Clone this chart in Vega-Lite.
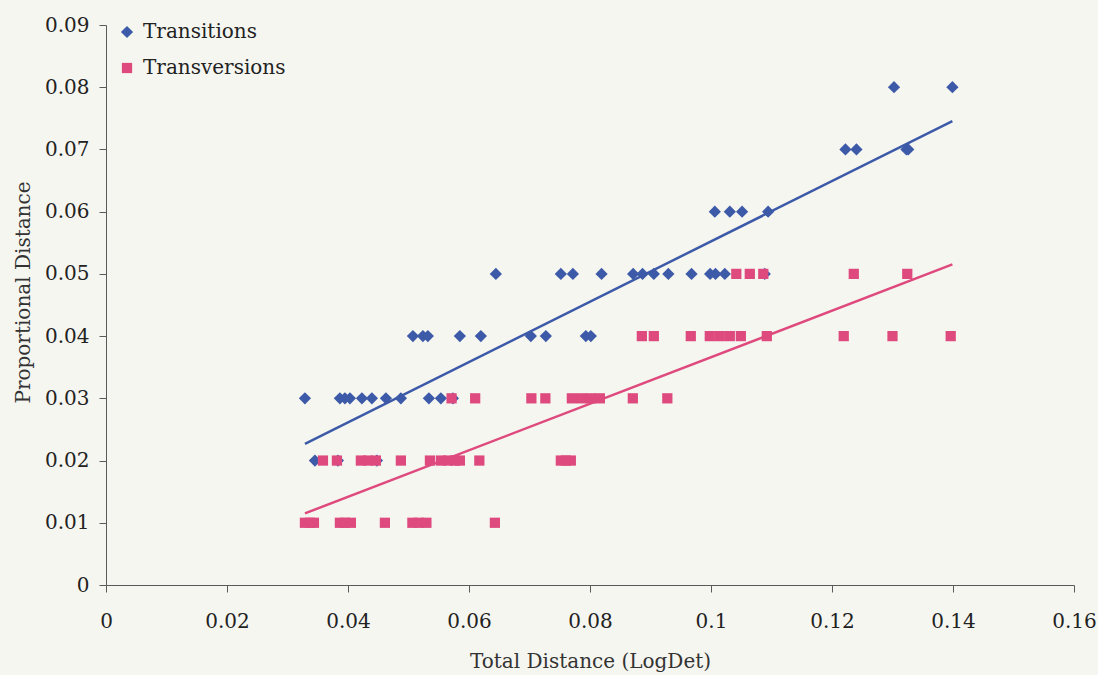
{
  "$schema": "https://vega.github.io/schema/vega-lite/v6.json",
  "width": 968,
  "height": 560,
  "autosize": {"type": "none"},
  "padding": {"left": 106, "top": 25, "right": 24, "bottom": 90},
  "background": "#f6f6f1",
  "config": {
    "view": {"stroke": null},
    "font": "DejaVu Serif",
    "axis": {
      "grid": false,
      "labelFlush": false,
      "domainColor": "#5a5a5a",
      "tickColor": "#5a5a5a",
      "tickSize": 7,
      "labelFontSize": 20,
      "labelColor": "#222222",
      "titleFontSize": 20,
      "titleFontWeight": "normal",
      "titleColor": "#333333"
    }
  },
  "datasets": {
    "points": [
      {"series": "Transitions", "x": 0.03453, "y": 0.02},
      {"series": "Transitions", "x": 0.03833, "y": 0.02},
      {"series": "Transitions", "x": 0.04478, "y": 0.02},
      {"series": "Transitions", "x": 0.03288, "y": 0.03},
      {"series": "Transitions", "x": 0.03866, "y": 0.03},
      {"series": "Transitions", "x": 0.03949, "y": 0.03},
      {"series": "Transitions", "x": 0.04032, "y": 0.03},
      {"series": "Transitions", "x": 0.0423, "y": 0.03},
      {"series": "Transitions", "x": 0.04395, "y": 0.03},
      {"series": "Transitions", "x": 0.04627, "y": 0.03},
      {"series": "Transitions", "x": 0.04874, "y": 0.03},
      {"series": "Transitions", "x": 0.05337, "y": 0.03},
      {"series": "Transitions", "x": 0.05535, "y": 0.03},
      {"series": "Transitions", "x": 0.05734, "y": 0.03},
      {"series": "Transitions", "x": 0.05073, "y": 0.04},
      {"series": "Transitions", "x": 0.05238, "y": 0.04},
      {"series": "Transitions", "x": 0.0532, "y": 0.04},
      {"series": "Transitions", "x": 0.05849, "y": 0.04},
      {"series": "Transitions", "x": 0.06196, "y": 0.04},
      {"series": "Transitions", "x": 0.07022, "y": 0.04},
      {"series": "Transitions", "x": 0.0727, "y": 0.04},
      {"series": "Transitions", "x": 0.07931, "y": 0.04},
      {"series": "Transitions", "x": 0.08014, "y": 0.04},
      {"series": "Transitions", "x": 0.06444, "y": 0.05},
      {"series": "Transitions", "x": 0.07518, "y": 0.05},
      {"series": "Transitions", "x": 0.07717, "y": 0.05},
      {"series": "Transitions", "x": 0.08191, "y": 0.05},
      {"series": "Transitions", "x": 0.08713, "y": 0.05},
      {"series": "Transitions", "x": 0.08868, "y": 0.05},
      {"series": "Transitions", "x": 0.09055, "y": 0.05},
      {"series": "Transitions", "x": 0.09295, "y": 0.05},
      {"series": "Transitions", "x": 0.09678, "y": 0.05},
      {"series": "Transitions", "x": 0.09985, "y": 0.05},
      {"series": "Transitions", "x": 0.10074, "y": 0.05},
      {"series": "Transitions", "x": 0.10228, "y": 0.05},
      {"series": "Transitions", "x": 0.10889, "y": 0.05},
      {"series": "Transitions", "x": 0.10063, "y": 0.06},
      {"series": "Transitions", "x": 0.10311, "y": 0.06},
      {"series": "Transitions", "x": 0.10514, "y": 0.06},
      {"series": "Transitions", "x": 0.10944, "y": 0.06},
      {"series": "Transitions", "x": 0.12222, "y": 0.07},
      {"series": "Transitions", "x": 0.12404, "y": 0.07},
      {"series": "Transitions", "x": 0.1323, "y": 0.07},
      {"series": "Transitions", "x": 0.1326, "y": 0.07},
      {"series": "Transitions", "x": 0.13025, "y": 0.08},
      {"series": "Transitions", "x": 0.1399, "y": 0.08},
      {"series": "Transversions", "x": 0.03288, "y": 0.01},
      {"series": "Transversions", "x": 0.03371, "y": 0.01},
      {"series": "Transversions", "x": 0.03437, "y": 0.01},
      {"series": "Transversions", "x": 0.03866, "y": 0.01},
      {"series": "Transversions", "x": 0.03949, "y": 0.01},
      {"series": "Transversions", "x": 0.04048, "y": 0.01},
      {"series": "Transversions", "x": 0.0461, "y": 0.01},
      {"series": "Transversions", "x": 0.05064, "y": 0.01},
      {"series": "Transversions", "x": 0.05172, "y": 0.01},
      {"series": "Transversions", "x": 0.05296, "y": 0.01},
      {"series": "Transversions", "x": 0.06428, "y": 0.01},
      {"series": "Transversions", "x": 0.03586, "y": 0.02},
      {"series": "Transversions", "x": 0.03817, "y": 0.02},
      {"series": "Transversions", "x": 0.04213, "y": 0.02},
      {"series": "Transversions", "x": 0.04329, "y": 0.02},
      {"series": "Transversions", "x": 0.04461, "y": 0.02},
      {"series": "Transversions", "x": 0.04874, "y": 0.02},
      {"series": "Transversions", "x": 0.05354, "y": 0.02},
      {"series": "Transversions", "x": 0.05535, "y": 0.02},
      {"series": "Transversions", "x": 0.05651, "y": 0.02},
      {"series": "Transversions", "x": 0.05767, "y": 0.02},
      {"series": "Transversions", "x": 0.05849, "y": 0.02},
      {"series": "Transversions", "x": 0.06171, "y": 0.02},
      {"series": "Transversions", "x": 0.07518, "y": 0.02},
      {"series": "Transversions", "x": 0.07601, "y": 0.02},
      {"series": "Transversions", "x": 0.07683, "y": 0.02},
      {"series": "Transversions", "x": 0.05712, "y": 0.03},
      {"series": "Transversions", "x": 0.06102, "y": 0.03},
      {"series": "Transversions", "x": 0.07031, "y": 0.03},
      {"series": "Transversions", "x": 0.07262, "y": 0.03},
      {"series": "Transversions", "x": 0.077, "y": 0.03},
      {"series": "Transversions", "x": 0.07865, "y": 0.03},
      {"series": "Transversions", "x": 0.08014, "y": 0.03},
      {"series": "Transversions", "x": 0.08163, "y": 0.03},
      {"series": "Transversions", "x": 0.08708, "y": 0.03},
      {"series": "Transversions", "x": 0.09278, "y": 0.03},
      {"series": "Transversions", "x": 0.08857, "y": 0.04},
      {"series": "Transversions", "x": 0.09055, "y": 0.04},
      {"series": "Transversions", "x": 0.09666, "y": 0.04},
      {"series": "Transversions", "x": 0.0998, "y": 0.04},
      {"series": "Transversions", "x": 0.10145, "y": 0.04},
      {"series": "Transversions", "x": 0.10311, "y": 0.04},
      {"series": "Transversions", "x": 0.10493, "y": 0.04},
      {"series": "Transversions", "x": 0.10922, "y": 0.04},
      {"series": "Transversions", "x": 0.12194, "y": 0.04},
      {"series": "Transversions", "x": 0.13, "y": 0.04},
      {"series": "Transversions", "x": 0.13962, "y": 0.04},
      {"series": "Transversions", "x": 0.10418, "y": 0.05},
      {"series": "Transversions", "x": 0.10641, "y": 0.05},
      {"series": "Transversions", "x": 0.10864, "y": 0.05},
      {"series": "Transversions", "x": 0.1236, "y": 0.05},
      {"series": "Transversions", "x": 0.13244, "y": 0.05}
    ],
    "trend": [
      {"series": "Transitions", "x": 0.03288, "y": 0.02269},
      {"series": "Transitions", "x": 0.1399, "y": 0.07456},
      {"series": "Transversions", "x": 0.03288, "y": 0.01151},
      {"series": "Transversions", "x": 0.1399, "y": 0.05153}
    ]
  },
  "encoding": {
    "x": {
      "field": "x",
      "type": "quantitative",
      "scale": {"domain": [0, 0.16], "nice": false, "zero": true},
      "axis": {
        "title": "Total Distance (LogDet)",
        "values": [0, 0.02, 0.04, 0.06, 0.08, 0.1, 0.12, 0.14, 0.16],
        "format": "~g",
        "labelPadding": 19,
        "titleBaseline": "alphabetic",
        "titleY": 82
      }
    },
    "y": {
      "field": "y",
      "type": "quantitative",
      "scale": {"domain": [0, 0.09], "nice": false},
      "axis": {
        "title": "Proportional Distance",
        "values": [0, 0.01, 0.02, 0.03, 0.04, 0.05, 0.06, 0.07, 0.08, 0.09],
        "format": "~g",
        "labelPadding": 10,
        "titleAngle": 270,
        "titleBaseline": "middle",
        "titleX": -83,
        "titleY": 267
      }
    }
  },
  "layer": [
    {
      "data": {"name": "points"},
      "mark": {"type": "point", "filled": true, "opacity": 1, "strokeWidth": 0},
      "encoding": {
        "color": {
          "field": "series",
          "type": "nominal",
          "scale": {"domain": ["Transitions", "Transversions"], "range": ["#3d5aa8", "#de4a7d"]},
          "legend": {
            "title": null,
            "orient": "none",
            "legendX": 11,
            "legendY": -3,
            "padding": 0,
            "labelFontSize": 20,
            "labelColor": "#222222",
            "symbolSize": 80,
            "symbolStrokeWidth": 0,
            "rowPadding": 16,
            "labelOffset": 6
          }
        },
        "shape": {
          "field": "series",
          "type": "nominal",
          "scale": {"domain": ["Transitions", "Transversions"], "range": ["diamond", "square"]}
        },
        "size": {
          "field": "series",
          "type": "nominal",
          "scale": {"domain": ["Transitions", "Transversions"], "range": [150, 105]},
          "legend": null
        }
      }
    },
    {
      "data": {"name": "trend"},
      "mark": {"type": "line", "strokeWidth": 2.5},
      "encoding": {
        "color": {
          "field": "series",
          "type": "nominal",
          "scale": {"domain": ["Transitions", "Transversions"], "range": ["#4a62ac", "#e0487b"]},
          "legend": null
        }
      }
    }
  ]
}
